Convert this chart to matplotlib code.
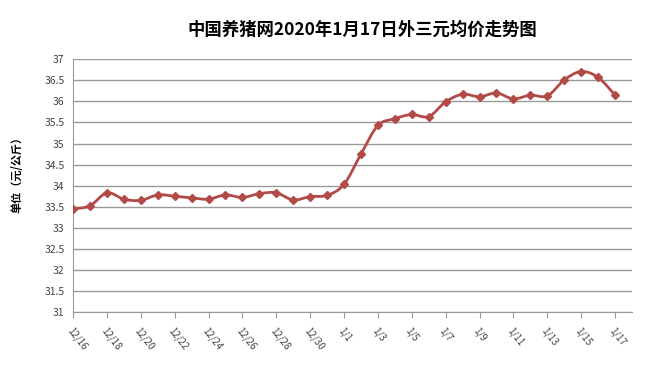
import numpy as np
import matplotlib
matplotlib.use("Agg")
import matplotlib.pyplot as plt
from matplotlib.path import Path
from matplotlib.patches import PathPatch

plt.rcParams["font.family"] = ["Noto Sans CJK SC", "DejaVu Sans"]

# daily dates 12/16 .. 1/17
dates = ["12/16", "12/17", "12/18", "12/19", "12/20", "12/21", "12/22", "12/23",
         "12/24", "12/25", "12/26", "12/27", "12/28", "12/29", "12/30", "12/31",
         "1/1", "1/2", "1/3", "1/4", "1/5", "1/6", "1/7", "1/8", "1/9", "1/10",
         "1/11", "1/12", "1/13", "1/14", "1/15", "1/16", "1/17"]
prices = [33.45, 33.52, 33.83, 33.68, 33.65, 33.78, 33.75, 33.71,
          33.68, 33.78, 33.72, 33.81, 33.83, 33.66, 33.74, 33.77,
          34.03, 34.75, 35.43, 35.59, 35.69, 35.64, 35.99, 36.17, 36.11, 36.20,
          36.06, 36.15, 36.13, 36.51, 36.71, 36.57, 36.15]
y_ticks = [31, 31.5, 32, 32.5, 33, 33.5, 34, 34.5, 35, 35.5, 36, 36.5, 37]

line_color = "#b24a48"

fig = plt.figure(figsize=(6.5, 3.66), dpi=100)
ax = fig.add_axes([0.1123, 0.1475, 0.8600, 0.6905])

x = np.arange(len(dates))
y = np.array(prices)

# smooth line like Excel: catmull-rom segments drawn as cubic beziers
verts = [(x[0], y[0])]
codes = [Path.MOVETO]
n = len(x)
for i in range(n - 1):
    p0 = np.array([x[max(i - 1, 0)], y[max(i - 1, 0)]])
    p1 = np.array([x[i], y[i]])
    p2 = np.array([x[i + 1], y[i + 1]])
    p3 = np.array([x[min(i + 2, n - 1)], y[min(i + 2, n - 1)]])
    c1 = p1 + (p2 - p0) / 6
    c2 = p2 - (p3 - p1) / 6
    verts += [tuple(c1), tuple(c2), tuple(p2)]
    codes += [Path.CURVE4] * 3
ax.add_patch(PathPatch(Path(verts, codes), facecolor="none",
                       edgecolor=line_color, linewidth=2, zorder=3))
ax.plot(x, y, linestyle="none", marker="D", markersize=4,
        color=line_color, zorder=4)

ax.set_xlim(0, 33)
ax.set_ylim(31, 37)
ax.set_yticks(y_ticks)
ax.set_yticklabels([f"{t:g}" for t in y_ticks])
ax.yaxis.grid(True, color="#9a9a9a", linewidth=1)
ax.set_axisbelow(True)

ax.set_xticks(x[::2])
ax.set_xticklabels(dates[::2], rotation=-52, ha="left", va="top",
                   rotation_mode="anchor", fontsize=7, color="#444444")
ax.tick_params(axis="x", length=4, color="#9a9a9a", pad=6)
ax.tick_params(axis="y", length=0, labelsize=7.5, labelcolor="#444444", pad=6)

for side in ["top", "right"]:
    ax.spines[side].set_visible(False)
for side in ["left", "bottom"]:
    ax.spines[side].set_color("#9a9a9a")

fig.text(0.557, 0.918, "中国养猪网2020年1月17日外三元均价走势图",
         ha="center", va="center", fontsize=12.5, fontweight="bold")
fig.text(0.026, 0.53, "单位（元/公斤）", rotation=90, ha="center",
         va="center", fontsize=8, fontweight="bold")

fig.savefig("out.png", dpi=100, facecolor="white")
